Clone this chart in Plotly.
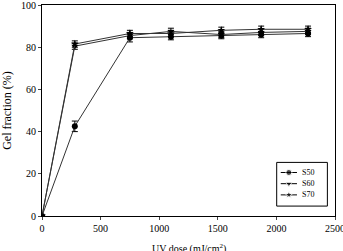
import plotly.graph_objects as go

dose = [0, 280, 750, 1100, 1530, 1870, 2270]
s50 = [0, 42.5, 84.5, 85.0, 85.5, 86.0, 86.5]
s60 = [0, 80.5, 85.5, 87.5, 86.0, 87.0, 87.5]
s70 = [0, 81.5, 86.5, 86.5, 88.0, 88.5, 88.5]
err50 = [0, 2.5, 2.0, 1.5, 1.5, 1.5, 1.5]
err60 = [0, 1.5, 1.5, 1.5, 1.5, 1.5, 1.5]
err70 = [0, 1.5, 1.5, 1.5, 1.5, 1.5, 1.5]
names = ["S50", "S60", "S70"]
symbols = ["circle", "triangle-down", "star"]
xticks = [0, 500, 1000, 1500, 2000, 2500]
yticks = [0, 20, 40, 60, 80, 100]
x_title = "UV dose (mJ/cm<sup>2</sup>)"
y_title = "Gel fraction (%)"

serif = "Liberation Serif, Times New Roman, serif"
fig = go.Figure()
for name, ys, err, sym in zip(names, [s50, s60, s70], [err50, err60, err70], symbols):
    fig.add_trace(go.Scatter(
        x=dose, y=ys, name=name, mode="lines+markers",
        line=dict(color="#333333", width=1),
        marker=dict(symbol=sym, size=6, color="black"),
        error_y=dict(type="data", array=err, color="black", thickness=1, width=3),
        showlegend=False,
    ))

# custom compact legend (on an auxiliary axis pair measured in box units)
row_y = [1, 2, 3]
for name, sym, ry in zip(names, symbols, row_y):
    fig.add_trace(go.Scatter(
        x=[0.1, 0.5, 0.9], y=[ry, ry, ry], mode="lines+markers",
        line=dict(color="black", width=1),
        marker=dict(symbol=sym, size=[0, 6, 0], color="black"),
        xaxis="x2", yaxis="y2", showlegend=False, hoverinfo="skip",
    ))
    fig.add_annotation(x=1.05, y=ry, xref="x2", yref="y2", text=name,
                       showarrow=False, xanchor="left", yanchor="middle",
                       font=dict(family=serif, size=8, color="black"))

fig.add_shape(type="rect", xref="paper", yref="paper",
              x0=0.801, x1=0.974, y0=0.047, y1=0.254,
              line=dict(color="black", width=1), fillcolor="rgba(0,0,0,0)")

fig.add_annotation(x=0.5, y=-0.155, xref="paper", yref="paper", text=x_title,
                   showarrow=False, xanchor="center", yanchor="middle",
                   font=dict(family=serif, size=10, color="black"))

font = dict(family=serif, size=10, color="black")
fig.update_layout(
    width=343, height=251,
    margin=dict(l=42, r=8, t=5, b=35),
    paper_bgcolor="white", plot_bgcolor="white",
    font=font,
    showlegend=False,
    xaxis=dict(range=[0, 2500], tickvals=xticks,
               ticks="outside", ticklen=3, showline=True, linecolor="black",
               mirror=True, showgrid=False, zeroline=False, automargin=False,
               ticklabeloverflow="allow"),
    yaxis=dict(range=[0, 100], tickvals=yticks,
               ticks="outside", ticklen=3, showline=True, linecolor="black",
               mirror=True, showgrid=False, zeroline=False, automargin=False,
               ticklabeloverflow="allow",
               title=dict(text=y_title, standoff=6)),
    xaxis2=dict(domain=[0.801, 0.974], range=[-0.1, 2.4], anchor="y2",
                visible=False, fixedrange=True),
    yaxis2=dict(domain=[0.047, 0.254], range=[4.0, 0.1], anchor="x2",
                visible=False, fixedrange=True),
)
fig.write_html("out.html")
